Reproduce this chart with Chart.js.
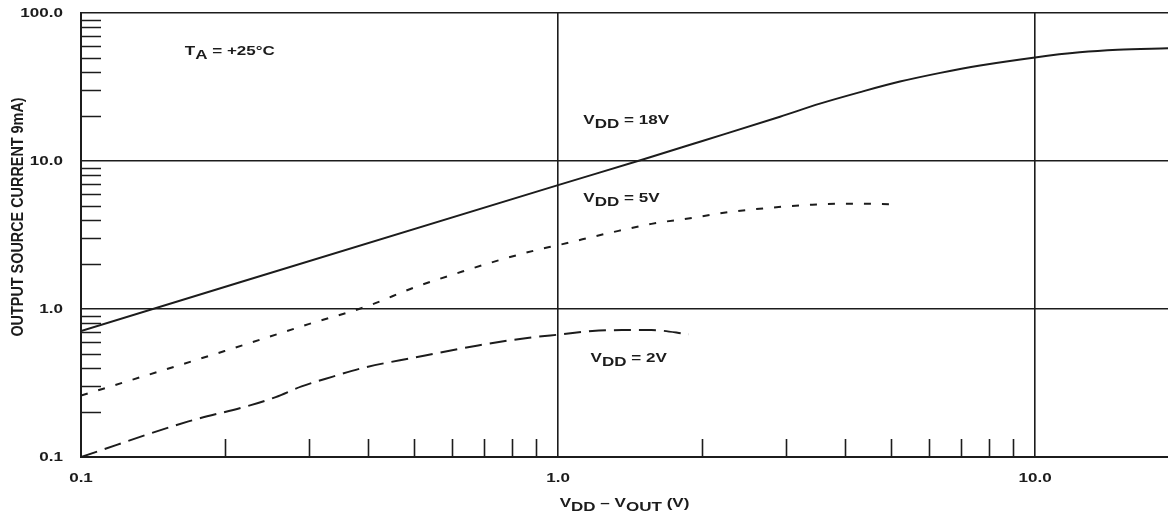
<!DOCTYPE html>
<html>
<head>
<meta charset="utf-8">
<script src="https://cdn.jsdelivr.net/npm/chart.js@4.4.1/dist/chart.umd.min.js"></script>
<style>
    html, body { margin: 0; padding: 0; background: #fff; }
    #wrap { width: 1168px; height: 521px; }
</style>
</head>
<body>
<div id="wrap"><canvas id="chart" width="1168" height="521"></canvas></div>
<script>
// V_DD - V_OUT (V) against output source current (mA)
const VOUT_18V = [0.1, 1.0, 1.5, 2.0, 2.92, 3.54, 4.30, 5.21, 6.33, 7.67, 10, 12.4, 14.9, 19];
const IOUT_18V = [0.71, 6.87, 10.2, 13.6, 19.9, 24.4, 29.2, 34.4, 39.4, 44.2, 50.1, 54.2, 56.4, 57.7];

const VOUT_5V = [0.1, 0.2, 0.3, 0.4, 0.5, 0.63, 0.75, 0.9, 1.0, 1.3, 1.57, 1.91, 2.32, 2.81, 3.41, 4.13, 5.0];
const IOUT_5V = [0.26, 0.52, 0.79, 1.05, 1.4, 1.79, 2.13, 2.5, 2.7, 3.3, 3.76, 4.13, 4.55, 4.84, 5.07, 5.15, 5.1];

const VOUT_2V = [0.1, 0.168, 0.227, 0.256, 0.29, 0.336, 0.39, 0.5, 0.68, 0.87, 1.02, 1.18, 1.36, 1.57, 1.88];
const IOUT_2V = [0.1, 0.174, 0.224, 0.254, 0.3, 0.348, 0.4, 0.47, 0.567, 0.64, 0.675, 0.71, 0.72, 0.72, 0.675];

const X_MAJOR = [0.1, 1, 10];
const X_MAJOR_LABELS = ["0.1", "1.0", "10.0"];
const Y_MAJOR = [0.1, 1, 10, 100];
const Y_MAJOR_LABELS = ["0.1", "1.0", "10.0", "100.0"];
const X_MINOR = [0.2, 0.3, 0.4, 0.5, 0.6, 0.7, 0.8, 0.9, 2, 3, 4, 5, 6, 7, 8, 9];
const Y_MINOR = [0.2, 0.3, 0.4, 0.5, 0.6, 0.7, 0.8, 0.9, 2, 3, 4, 5, 6, 7, 8, 9, 20, 30, 40, 50, 60, 70, 80, 90];

// curve labels, anchored at (x, y) in data units; second item flags a subscript run
const NOTE_TEMP = { x: 0.165, y: 55, runs: [["T"], ["A", true], [" = +25°C"]] };
const NOTE_18V = { x: 1.13, y: 18.6, runs: [["V"], ["DD", true], [" = 18V"]] };
const NOTE_5V = { x: 1.13, y: 5.6, runs: [["V"], ["DD", true], [" = 5V"]] };
const NOTE_2V = { x: 1.17, y: 0.46, runs: [["V"], ["DD", true], [" = 2V"]] };
const X_TITLE = [["V"], ["DD", true], [" – V"], ["OUT", true], [" (V)"]];
const Y_TITLE = "OUTPUT SOURCE CURRENT 9mA)";

const INK = "#1c1c1c";
const FONT = 'bold 12px "Liberation Sans", Arial, sans-serif';
const STRETCH = 1.42;

function points(xs, ys) {
    return xs.map((x, i) => ({ x, y: ys[i] }));
}

// text in runs, subscripts dropped a few px; stretched wide like the scan
function richText(ctx, x, y, runs, align) {
    ctx.font = FONT;
    const widths = runs.map((r) => ctx.measureText(r[0]).width);
    const total = widths.reduce((a, b) => a + b, 0) * STRETCH;
    let start = x;
    if (align === "center") start = x - total / 2;
    if (align === "right") start = x - total;
    ctx.save();
    ctx.translate(start, y);
    ctx.scale(STRETCH, 1);
    ctx.textAlign = "left";
    ctx.textBaseline = "middle";
    let cur = 0;
    runs.forEach((r, i) => {
        ctx.fillText(r[0], cur, r[1] ? 4 : 0);
        cur += widths[i];
    });
    ctx.restore();
}

const datasheetPlugin = {
    id: "datasheet",
    afterDraw(chart) {
        const ctx = chart.ctx;
        const xs = chart.scales.x;
        const ys = chart.scales.y;
        const area = chart.chartArea;

        ctx.save();
        ctx.strokeStyle = INK;
        ctx.lineWidth = 1.6;
        ctx.beginPath();
        X_MINOR.forEach((v) => {
            const px = Math.round(xs.getPixelForValue(v)) + 0.5;
            ctx.moveTo(px, area.bottom);
            ctx.lineTo(px, area.bottom - 18);
        });
        Y_MINOR.forEach((v) => {
            const py = Math.round(ys.getPixelForValue(v)) + 0.5;
            ctx.moveTo(area.left, py);
            ctx.lineTo(area.left + 20, py);
        });
        ctx.stroke();

        ctx.fillStyle = INK;
        X_MAJOR.forEach((v, i) => {
            richText(ctx, xs.getPixelForValue(v), area.bottom + 22, [[X_MAJOR_LABELS[i]]], "center");
        });
        Y_MAJOR.forEach((v, i) => {
            richText(ctx, area.left - 18, ys.getPixelForValue(v) + 1, [[Y_MAJOR_LABELS[i]]], "right");
        });

        [NOTE_TEMP, NOTE_18V, NOTE_5V, NOTE_2V].forEach((n) => {
            richText(ctx, xs.getPixelForValue(n.x), ys.getPixelForValue(n.y), n.runs, "left");
        });

        richText(ctx, (area.left + area.right) / 2, area.bottom + 47, X_TITLE, "center");

        ctx.save();
        ctx.translate(18, 217);
        ctx.rotate(-Math.PI / 2);
        ctx.scale(1.2, 1.4);
        ctx.font = FONT;
        ctx.textAlign = "center";
        ctx.textBaseline = "middle";
        ctx.fillText(Y_TITLE, 0, 0);
        ctx.restore();

        ctx.restore();
    },
};

function curve(xs, ys, dash) {
    return {
        data: points(xs, ys),
        borderColor: INK,
        borderWidth: 2,
        borderDash: dash,
        pointRadius: 0,
        cubicInterpolationMode: "monotone",
        fill: false,
    };
}

new Chart(document.getElementById("chart"), {
    type: "line",
    data: {
        datasets: [
            curve(VOUT_18V, IOUT_18V, []),
            curve(VOUT_5V, IOUT_5V, [7, 11]),
            curve(VOUT_2V, IOUT_2V, [17, 8]),
        ],
    },
    options: {
        responsive: false,
        animation: false,
        layout: { padding: { top: 13, left: 0, right: 0, bottom: 0 } },
        plugins: {
            legend: { display: false },
            tooltip: { enabled: false },
        },
        scales: {
            x: {
                type: "logarithmic",
                min: 0.1,
                max: 19,
                afterBuildTicks: (s) => { s.ticks = X_MAJOR.map((v) => ({ value: v })); },
                afterFit: (s) => { s.height = 64; },
                ticks: { display: false },
                grid: { color: INK, lineWidth: 1.6, drawTicks: false },
                border: { color: INK, width: 2 },
            },
            y: {
                type: "logarithmic",
                min: 0.1,
                max: 100,
                afterBuildTicks: (s) => { s.ticks = Y_MAJOR.map((v) => ({ value: v })); },
                afterFit: (s) => { s.width = 81; },
                ticks: { display: false },
                grid: { color: INK, lineWidth: 1.6, drawTicks: false },
                border: { color: INK, width: 2 },
            },
        },
    },
    plugins: [datasheetPlugin],
});
</script>
</body>
</html>
